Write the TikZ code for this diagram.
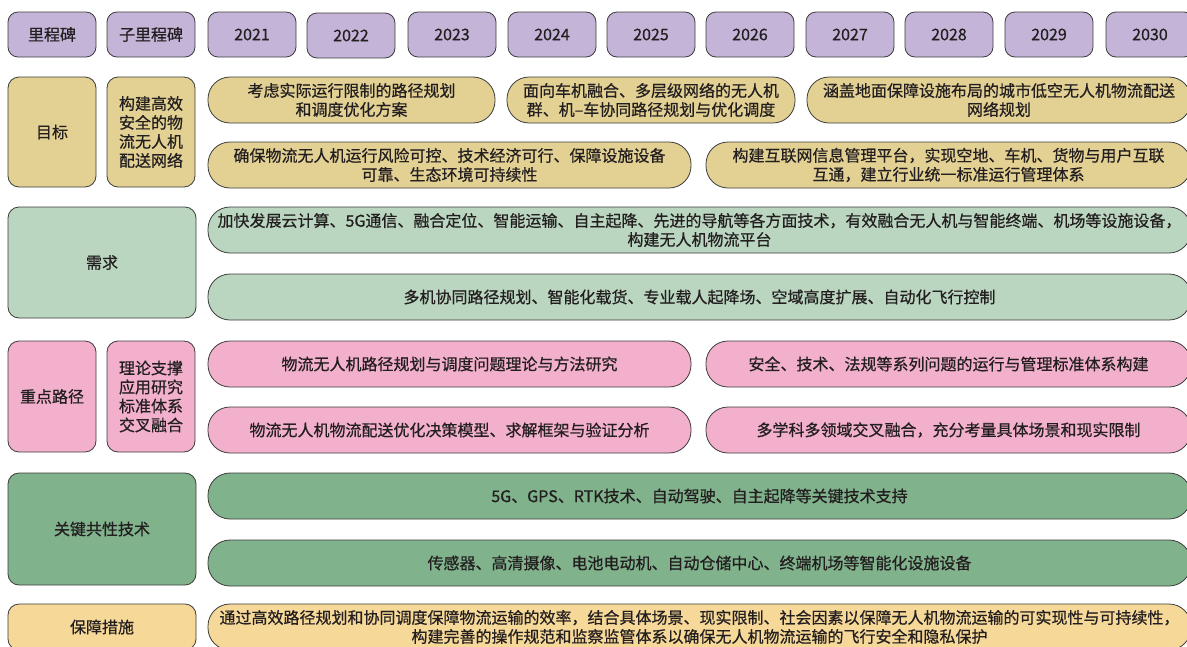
\documentclass[tikz,border=0pt]{standalone}
\usepackage{fontspec}
\newfontfamily\cjk[FakeBold=0.6]{Noto Sans CJK SC}
\definecolor{linegray}{RGB}{60,60,60}
\definecolor{txtdark}{RGB}{35,31,32}
\definecolor{mspurple}{RGB}{196,180,216}
\definecolor{goaltan}{RGB}{227,209,148}
\definecolor{needgreen}{RGB}{187,214,192}
\definecolor{pathpink}{RGB}{243,176,204}
\definecolor{techgreen}{RGB}{128,178,140}
\definecolor{guarorange}{RGB}{246,216,152}
\begin{document}
\begin{tikzpicture}[x=1pt,y=-1pt,
  box/.style={draw=linegray,line width=0.8pt,rounded corners=11pt,anchor=north west,
    inner sep=2pt,outer sep=0pt,align=center,text=txtdark,
    font=\cjk\fontsize{16}{19}\selectfont},
  hdr/.style={box,fill=mspurple,rounded corners=10pt,minimum width=88pt,minimum height=45pt},
  pill/.style={box,rounded corners=22pt,minimum height=46pt},
  goalbox/.style={box,fill=goaltan},
  needbox/.style={box,fill=needgreen},
  pathbox/.style={box,fill=pathpink},
  techbox/.style={box,fill=techgreen},
  guarbox/.style={box,fill=guarorange}]
  \useasboundingbox (0,0) rectangle (1187,646);
  \clip (0,0) rectangle (1187,646);
  \node[hdr] (ms) at (8,12) {里程碑};
  \node[hdr] (subms) at (107,12) {子里程碑};
  \node[hdr] (y2021) at (208,12) {2021};
  \node[hdr] (y2022) at (307,13) {2022};
  \node[hdr] (y2023) at (408,12) {2023};
  \node[hdr] (y2024) at (508,12) {2024};
  \node[hdr] (y2025) at (607,12) {2025};
  \node[hdr] (y2026) at (706,12) {2026};
  \node[hdr] (y2027) at (806,12) {2027};
  \node[hdr] (y2028) at (905,12) {2028};
  \node[hdr] (y2029) at (1005,12) {2029};
  \node[hdr] (y2030) at (1106,12) {2030};
  \node[goalbox,minimum width=88pt,minimum height=110pt] (goal) at (8,77) {目标};
  \node[goalbox,minimum width=88pt,minimum height=110pt] (goalsub) at (107,77)
    {构建高效\\安全的物\\流无人机\\配送网络};
  \node[goalbox,pill,minimum width=287pt] (goalA) at (208,77)
    {考虑实际运行限制的路径规划\\和调度优化方案};
  \node[goalbox,pill,minimum width=288pt] (goalB) at (507,77)
    {面向车机融合、多层级网络的无人机\\群、机–车协同路径规划与优化调度};
  \node[goalbox,pill,minimum width=384pt] (goalC) at (807,77)
    {涵盖地面保障设施布局的城市低空无人机物流配送\\网络规划};
  \node[goalbox,pill,minimum width=483pt] (goalD) at (208,142)
    {确保物流无人机运行风险可控、技术经济可行、保障设施设备\\可靠、生态环境可持续性};
  \node[goalbox,pill,minimum width=485pt] (goalE) at (706,142)
    {构建互联网信息管理平台，实现空地、车机、货物与用户互联\\互通，建立行业统一标准运行管理体系};
  \node[needbox,minimum width=188pt,minimum height=111pt] (need) at (8,207) {需求};
  \node[needbox,pill,minimum width=983pt] (needA) at (208,207)
    {加快发展云计算、5G通信、融合定位、智能运输、自主起降、先进的导航等各方面技术，有效融合无人机与智能终端、机场等设施设备，\\构建无人机物流平台};
  \node[needbox,pill,minimum width=983pt] (needB) at (208,274)
    {多机协同路径规划、智能化载货、专业载人起降场、空域高度扩展、自动化飞行控制};
  \node[pathbox,minimum width=88pt,minimum height=111pt] (path) at (8,341) {重点路径};
  \node[pathbox,minimum width=88pt,minimum height=111pt] (pathsub) at (107,341)
    {理论支撑\\应用研究\\标准体系\\交叉融合};
  \node[pathbox,pill,minimum width=483pt] (pathA) at (208,341)
    {物流无人机路径规划与调度问题理论与方法研究};
  \node[pathbox,pill,minimum width=485pt] (pathB) at (706,341)
    {安全、技术、法规等系列问题的运行与管理标准体系构建};
  \node[pathbox,pill,minimum width=483pt] (pathC) at (208,407)
    {物流无人机物流配送优化决策模型、求解框架与验证分析};
  \node[pathbox,pill,minimum width=485pt] (pathD) at (706,407)
    {多学科多领域交叉融合，充分考量具体场景和现实限制};
  \node[techbox,minimum width=188pt,minimum height=112pt] (tech) at (8,473) {关键共性技术};
  \node[techbox,pill,minimum width=983pt] (techA) at (208,473)
    {5G、GPS、RTK技术、自动驾驶、自主起降等关键技术支持};
  \node[techbox,pill,minimum width=983pt] (techB) at (208,540)
    {传感器、高清摄像、电池电动机、自动仓储中心、终端机场等智能化设施设备};
  \node[guarbox,minimum width=188pt,minimum height=46pt] (guar) at (8,604) {保障措施};
  \node[guarbox,pill,minimum width=983pt] (guarA) at (208,604)
    {通过高效路径规划和协同调度保障物流运输的效率，结合具体场景、现实限制、社会因素以保障无人机物流运输的可实现性与可持续性，\\构建完善的操作规范和监察监管体系以确保无人机物流运输的飞行安全和隐私保护};
\end{tikzpicture}
\end{document}
